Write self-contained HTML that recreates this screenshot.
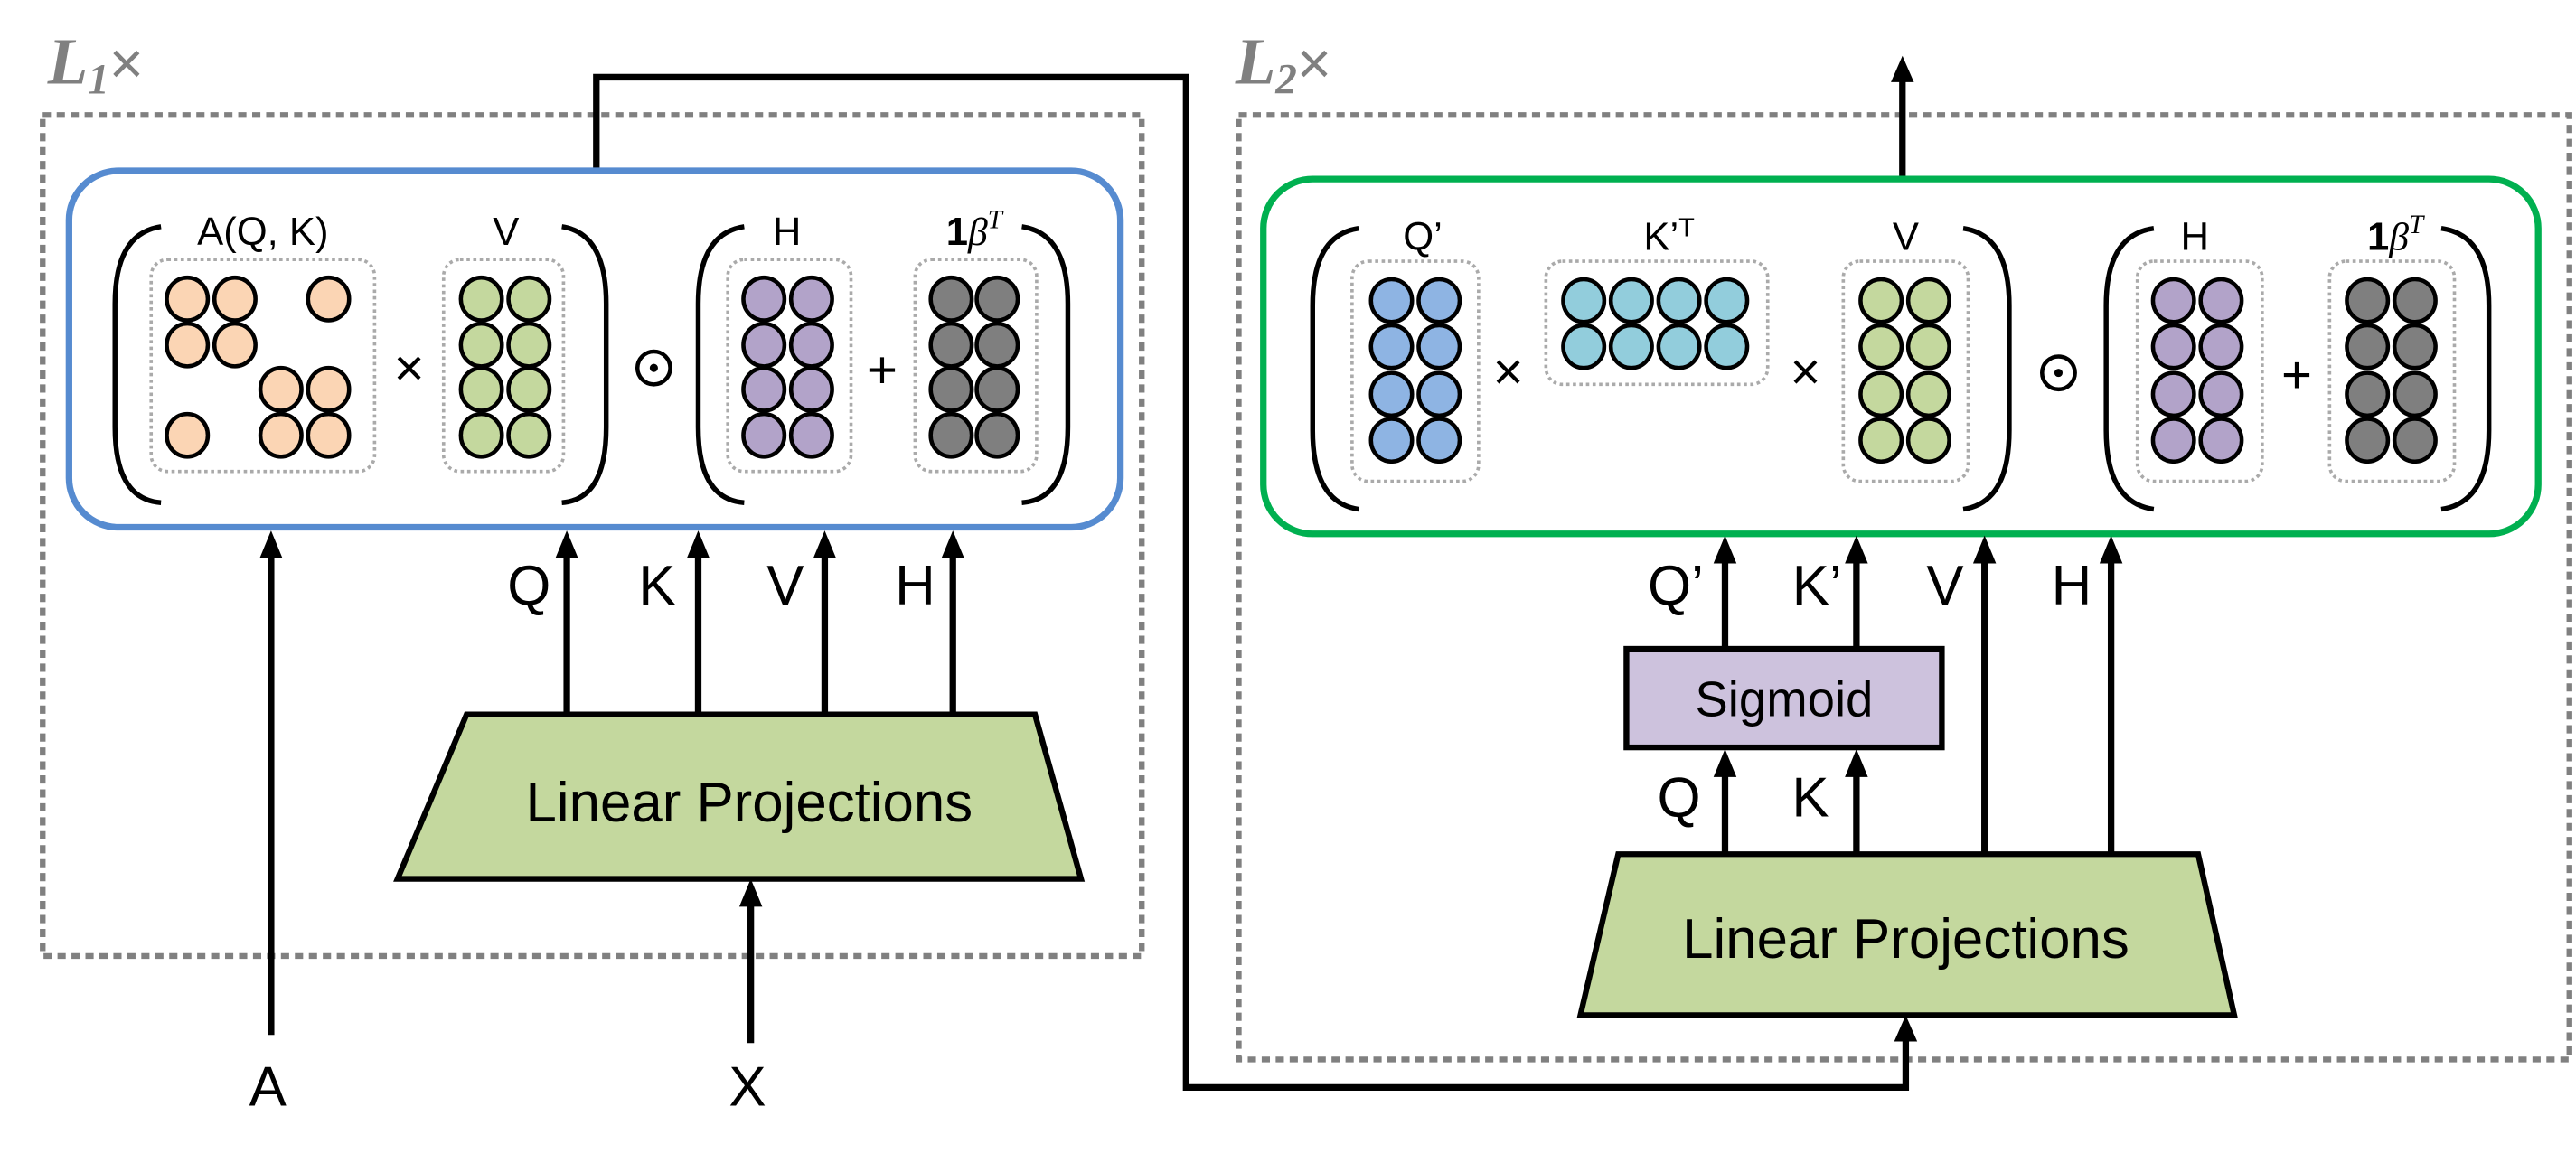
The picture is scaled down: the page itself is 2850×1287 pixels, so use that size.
<!DOCTYPE html>
<html><head><meta charset="utf-8"><style>html,body{margin:0;padding:0;background:#fff}svg{display:block}</style></head>
<body>
<svg width="2850" height="1287" viewBox="0 0 1568 708" preserveAspectRatio="none" xmlns="http://www.w3.org/2000/svg" font-family="Liberation Sans, sans-serif">
<!-- dotted outer boxes -->
<rect x="26" y="70" width="669" height="512" fill="none" stroke="#808080" stroke-width="3.5" stroke-dasharray="5,3.5"/>
<rect x="754" y="70" width="810" height="575" fill="none" stroke="#808080" stroke-width="3.5" stroke-dasharray="5,3.5"/>
<text x="29" y="51" font-family="Liberation Serif, serif" font-style="italic" font-weight="bold" font-size="40" fill="#808080">L<tspan font-size="26" dy="6">1</tspan><tspan dy="-6" font-style="normal" font-weight="normal" font-family="Liberation Sans, sans-serif" font-size="36">×</tspan></text>
<text x="752" y="51" font-family="Liberation Serif, serif" font-style="italic" font-weight="bold" font-size="40" fill="#808080">L<tspan font-size="26" dy="6">2</tspan><tspan dy="-6" font-style="normal" font-weight="normal" font-family="Liberation Sans, sans-serif" font-size="36">×</tspan></text>

<polyline points="363,106 363,47 722,47 722,662 1160,662 1160,632" fill="none" stroke="#000" stroke-width="4"/>
<polygon points="1160,618 1153,634 1167,634" fill="#000"/>
<line x1="1158" y1="109" x2="1158" y2="48" stroke="#000" stroke-width="4"/>
<polygon points="1158,34 1151,50 1165,50" fill="#000"/>

<rect x="42" y="104" width="640" height="217" rx="30" fill="#fff" stroke="#568bd0" stroke-width="4"/>
<rect x="769" y="109" width="776" height="216" rx="30" fill="#fff" stroke="#00b050" stroke-width="4"/>

<g fill="none" stroke="#000" stroke-width="3">
<path d="M98,138 Q70,142 70,185 L70,260 Q70,304 98,306"/>
<path d="M342,138 Q369,142 369,185 L369,260 Q369,304 342,306"/>
<path d="M453,138 Q425,142 425,185 L425,260 Q425,304 453,306"/>
<path d="M622,138 Q650,142 650,185 L650,260 Q650,304 622,306"/>
<path d="M827,139 Q799,143 799,186 L799,262 Q799,306 827,310"/>
<path d="M1195,139 Q1223,143 1223,186 L1223,262 Q1223,306 1195,310"/>
<path d="M1311,139 Q1282,143 1282,186 L1282,262 Q1282,306 1311,310"/>
<path d="M1486,139 Q1515,143 1515,186 L1515,262 Q1515,306 1486,310"/>
</g>

<g fill="none" stroke="#aaa" stroke-width="2" stroke-dasharray="2,2">
<rect x="92" y="158" width="136" height="129" rx="10"/>
<rect x="270" y="158" width="73" height="129" rx="10"/>
<rect x="443" y="158" width="75" height="129" rx="10"/>
<rect x="557" y="158" width="74" height="129" rx="10"/>
<rect x="823" y="159" width="77" height="134" rx="10"/>
<rect x="941" y="159" width="135" height="75" rx="10"/>
<rect x="1122" y="159" width="76" height="134" rx="10"/>
<rect x="1301" y="159" width="76" height="134" rx="10"/>
<rect x="1418" y="159" width="76" height="134" rx="10"/>
</g>

<g stroke="#000" stroke-width="2.5">
<g fill="#fbd5b4">
<ellipse cx="114" cy="182" rx="12.5" ry="13"/><ellipse cx="143" cy="182" rx="12.5" ry="13"/><ellipse cx="200" cy="182" rx="12.5" ry="13"/>
<ellipse cx="114" cy="210" rx="12.5" ry="13"/><ellipse cx="143" cy="210" rx="12.5" ry="13"/>
<ellipse cx="171" cy="237" rx="12.5" ry="13"/><ellipse cx="200" cy="237" rx="12.5" ry="13"/>
<ellipse cx="114" cy="265" rx="12.5" ry="13"/><ellipse cx="171" cy="265" rx="12.5" ry="13"/><ellipse cx="200" cy="265" rx="12.5" ry="13"/>
</g>
<g fill="#c4d89e">
<ellipse cx="293" cy="182" rx="12.5" ry="13"/><ellipse cx="322" cy="182" rx="12.5" ry="13"/>
<ellipse cx="293" cy="210" rx="12.5" ry="13"/><ellipse cx="322" cy="210" rx="12.5" ry="13"/>
<ellipse cx="293" cy="237" rx="12.5" ry="13"/><ellipse cx="322" cy="237" rx="12.5" ry="13"/>
<ellipse cx="293" cy="265" rx="12.5" ry="13"/><ellipse cx="322" cy="265" rx="12.5" ry="13"/>
</g>
<g fill="#b2a3c9">
<ellipse cx="465" cy="182" rx="12.5" ry="13"/><ellipse cx="494" cy="182" rx="12.5" ry="13"/>
<ellipse cx="465" cy="210" rx="12.5" ry="13"/><ellipse cx="494" cy="210" rx="12.5" ry="13"/>
<ellipse cx="465" cy="237" rx="12.5" ry="13"/><ellipse cx="494" cy="237" rx="12.5" ry="13"/>
<ellipse cx="465" cy="265" rx="12.5" ry="13"/><ellipse cx="494" cy="265" rx="12.5" ry="13"/>
</g>
<g fill="#7f7f7f">
<ellipse cx="579" cy="182" rx="12.5" ry="13"/><ellipse cx="607" cy="182" rx="12.5" ry="13"/>
<ellipse cx="579" cy="210" rx="12.5" ry="13"/><ellipse cx="607" cy="210" rx="12.5" ry="13"/>
<ellipse cx="579" cy="237" rx="12.5" ry="13"/><ellipse cx="607" cy="237" rx="12.5" ry="13"/>
<ellipse cx="579" cy="265" rx="12.5" ry="13"/><ellipse cx="607" cy="265" rx="12.5" ry="13"/>
</g>
<g fill="#8eb4e3">
<ellipse cx="847" cy="183" rx="12.5" ry="13"/><ellipse cx="876" cy="183" rx="12.5" ry="13"/>
<ellipse cx="847" cy="211" rx="12.5" ry="13"/><ellipse cx="876" cy="211" rx="12.5" ry="13"/>
<ellipse cx="847" cy="240" rx="12.5" ry="13"/><ellipse cx="876" cy="240" rx="12.5" ry="13"/>
<ellipse cx="847" cy="268" rx="12.5" ry="13"/><ellipse cx="876" cy="268" rx="12.5" ry="13"/>
</g>
<g fill="#92cddc">
<ellipse cx="964" cy="183" rx="12.5" ry="13"/><ellipse cx="993" cy="183" rx="12.5" ry="13"/><ellipse cx="1022" cy="183" rx="12.5" ry="13"/><ellipse cx="1051" cy="183" rx="12.5" ry="13"/>
<ellipse cx="964" cy="211" rx="12.5" ry="13"/><ellipse cx="993" cy="211" rx="12.5" ry="13"/><ellipse cx="1022" cy="211" rx="12.5" ry="13"/><ellipse cx="1051" cy="211" rx="12.5" ry="13"/>
</g>
<g fill="#c4d89e">
<ellipse cx="1145" cy="183" rx="12.5" ry="13"/><ellipse cx="1174" cy="183" rx="12.5" ry="13"/>
<ellipse cx="1145" cy="211" rx="12.5" ry="13"/><ellipse cx="1174" cy="211" rx="12.5" ry="13"/>
<ellipse cx="1145" cy="240" rx="12.5" ry="13"/><ellipse cx="1174" cy="240" rx="12.5" ry="13"/>
<ellipse cx="1145" cy="268" rx="12.5" ry="13"/><ellipse cx="1174" cy="268" rx="12.5" ry="13"/>
</g>
<g fill="#b2a3c9">
<ellipse cx="1323" cy="183" rx="12.5" ry="13"/><ellipse cx="1352" cy="183" rx="12.5" ry="13"/>
<ellipse cx="1323" cy="211" rx="12.5" ry="13"/><ellipse cx="1352" cy="211" rx="12.5" ry="13"/>
<ellipse cx="1323" cy="240" rx="12.5" ry="13"/><ellipse cx="1352" cy="240" rx="12.5" ry="13"/>
<ellipse cx="1323" cy="268" rx="12.5" ry="13"/><ellipse cx="1352" cy="268" rx="12.5" ry="13"/>
</g>
<g fill="#7f7f7f">
<ellipse cx="1441" cy="183" rx="12.5" ry="13"/><ellipse cx="1470" cy="183" rx="12.5" ry="13"/>
<ellipse cx="1441" cy="211" rx="12.5" ry="13"/><ellipse cx="1470" cy="211" rx="12.5" ry="13"/>
<ellipse cx="1441" cy="240" rx="12.5" ry="13"/><ellipse cx="1470" cy="240" rx="12.5" ry="13"/>
<ellipse cx="1441" cy="268" rx="12.5" ry="13"/><ellipse cx="1470" cy="268" rx="12.5" ry="13"/>
</g>
</g>

<g font-size="24" text-anchor="middle" fill="#000">
<text x="160" y="149">A(Q, K)</text>
<text x="308" y="149">V</text>
<text x="479" y="149">H</text>
<text x="593" y="149"><tspan font-weight="bold">1</tspan><tspan font-family="Liberation Serif, serif" font-style="italic">β</tspan><tspan font-family="Liberation Serif, serif" font-style="italic" font-size="16" dy="-10">T</tspan></text>
<text x="866" y="152">Q’</text>
<text x="1016" y="152">K’<tspan font-size="16" dy="-8">T</tspan></text>
<text x="1160" y="152">V</text>
<text x="1336" y="152">H</text>
<text x="1458" y="152"><tspan font-weight="bold">1</tspan><tspan font-family="Liberation Serif, serif" font-style="italic">β</tspan><tspan font-family="Liberation Serif, serif" font-style="italic" font-size="16" dy="-10">T</tspan></text>
</g>
<g font-size="32" text-anchor="middle" fill="#000">
<text x="249" y="235">×</text>
<text x="537" y="236">+</text>
<text x="918" y="237">×</text>
<text x="1099" y="237">×</text>
<text x="1398" y="239">+</text>
</g>
<g fill="none" stroke="#000" stroke-width="2.5">
<circle cx="398" cy="224" r="10"/><circle cx="1253" cy="227" r="10"/>
</g>
<circle cx="398" cy="224" r="2.5" fill="#000"/><circle cx="1253" cy="227" r="2.5" fill="#000"/>

<g stroke="#000" stroke-width="4">
<line x1="165" y1="630" x2="165" y2="338"/>
<line x1="345" y1="435" x2="345" y2="338"/>
<line x1="425" y1="435" x2="425" y2="338"/>
<line x1="502" y1="435" x2="502" y2="338"/>
<line x1="580" y1="435" x2="580" y2="338"/>
<line x1="457" y1="635" x2="457" y2="550"/>
<line x1="1050" y1="395" x2="1050" y2="340"/>
<line x1="1130" y1="395" x2="1130" y2="340"/>
<line x1="1208" y1="520" x2="1208" y2="340"/>
<line x1="1285" y1="520" x2="1285" y2="340"/>
<line x1="1050" y1="520" x2="1050" y2="470"/>
<line x1="1130" y1="520" x2="1130" y2="470"/>
</g>
<g fill="#000">
<polygon points="165,323 158,340 172,340"/>
<polygon points="345,323 338,340 352,340"/>
<polygon points="425,323 418,340 432,340"/>
<polygon points="502,323 495,340 509,340"/>
<polygon points="580,323 573,340 587,340"/>
<polygon points="457,535 450,552 464,552"/>
<polygon points="1050,326 1043,343 1057,343"/>
<polygon points="1130,326 1123,343 1137,343"/>
<polygon points="1208,326 1201,343 1215,343"/>
<polygon points="1285,326 1278,343 1292,343"/>
<polygon points="1050,456 1043,473 1057,473"/>
<polygon points="1130,456 1123,473 1137,473"/>
</g>

<g font-size="34" text-anchor="middle" fill="#000">
<text x="322" y="368">Q</text>
<text x="400" y="368">K</text>
<text x="478" y="368">V</text>
<text x="557" y="368">H</text>
<text x="163" y="673">A</text>
<text x="455" y="673">X</text>
<text x="1020" y="368">Q’</text>
<text x="1106" y="368">K’</text>
<text x="1184" y="368">V</text>
<text x="1261" y="368">H</text>
<text x="1022" y="497">Q</text>
<text x="1102" y="497">K</text>
</g>

<polygon points="284,435 630,435 658,535 242,535" fill="#c4d89e" stroke="#000" stroke-width="3.5"/>
<text x="456" y="500" font-size="34" text-anchor="middle">Linear Projections</text>
<polygon points="985,520 1338,520 1360,618 962,618" fill="#c4d89e" stroke="#000" stroke-width="3.5"/>
<text x="1160" y="583" font-size="34" text-anchor="middle">Linear Projections</text>

<rect x="990" y="395" width="192" height="60" fill="#cdc2dd" stroke="#000" stroke-width="3.5"/>
<text x="1086" y="436" font-size="30" text-anchor="middle">Sigmoid</text>
</svg>
</body></html>
